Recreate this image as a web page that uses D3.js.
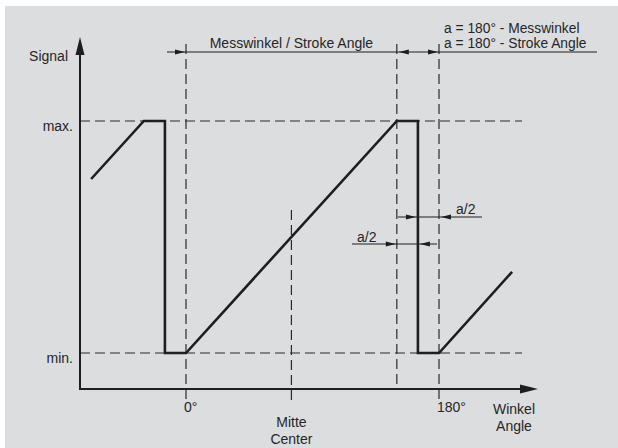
<!DOCTYPE html>
<html><head><meta charset="utf-8">
<script src="https://cdn.jsdelivr.net/npm/d3@7"></script>
<style>
html,body{margin:0;padding:0;background:#fff;}
svg{display:block;}
text{font-family:"Liberation Sans",Arial,sans-serif;font-size:14px;fill:#262626;}
</style></head>
<body>
<svg id="chart" width="618" height="448"></svg>
<script>
// ---- data ----
const signalAngle = [-67.5, -30, -15, -15, 0, 150, 165, 165, 180, 232];
const signalLevel = [0.75, 1, 1, 0, 0, 1, 1, 0, 0, 0.35];
const angleTicks = [0, 180];
const angleTickLabels = ["0°", "180°"];
const levelTicks = [0, 1];
const levelTickLabels = ["min.", "max."];
const strokeAngle = 150;
const centerAngle = 75;
const strokeLabel = "Messwinkel / Stroke Angle";
const gapLabels = ["a = 180° - Messwinkel", "a = 180° - Stroke Angle"];
const halfGapLabel = "a/2";
const centerLabels = ["Mitte", "Center"];
const xTitle = ["Winkel", "Angle"];
const yTitle = "Signal";

// ---- layout ----
const svg = d3.select("#chart");
svg.append("rect").attr("x",5).attr("y",6).attr("width",613).attr("height",442).attr("fill","#dcdddf");

const x = d3.scaleLinear().domain([0,180]).range([186,439]);
const y = d3.scaleLinear().domain([0,1]).range([353,121]);
const x0 = 80, yBase = 389, xEnd = 538, yTop = 37;
const ink = "#1e1e1e";

// dashed reference lines
const dash = "10,5";
const g = svg.append("g").attr("stroke", "#2a2a2a").attr("stroke-width",1.2).attr("stroke-dasharray",dash).attr("fill","none");
levelTicks.forEach(v => g.append("line").attr("x1",x0).attr("x2",522).attr("y1",y(v)).attr("y2",y(v)));
g.append("line").attr("x1",x(0)).attr("x2",x(0)).attr("y1",44).attr("y2",399);
g.append("line").attr("x1",x(strokeAngle)).attr("x2",x(strokeAngle)).attr("y1",44).attr("y2",yBase);
g.append("line").attr("x1",x(180)).attr("x2",x(180)).attr("y1",44).attr("y2",399);
g.append("line").attr("x1",x(centerAngle)).attr("x2",x(centerAngle)).attr("y1",210).attr("y2",401);

// axes
svg.append("line").attr("x1",x0).attr("x2",xEnd-12).attr("y1",yBase).attr("y2",yBase).attr("stroke",ink).attr("stroke-width",2);
svg.append("line").attr("x1",x0).attr("x2",x0).attr("y1",yBase+1).attr("y2",yTop+12).attr("stroke",ink).attr("stroke-width",2);
svg.append("path").attr("d",`M${xEnd},${yBase} L${xEnd-18},${yBase-4.5} L${xEnd-18},${yBase+4.5} Z`).attr("fill",ink);
svg.append("path").attr("d",`M${x0},${yTop} L${x0-4.5},${yTop+18} L${x0+4.5},${yTop+18} Z`).attr("fill",ink);

// signal line
const line = d3.line().x((d,i)=>x(signalAngle[i])).y((d,i)=>y(signalLevel[i]));
svg.append("path").attr("d", line(signalAngle)).attr("fill","none").attr("stroke",ink).attr("stroke-width",2.6).attr("stroke-linejoin","miter");

// dimension helpers
function arrow(tipX, yy, dir){ // dir: +1 pointing right, -1 pointing left
  const L = 10, w = 2.5;
  svg.append("path").attr("d",`M${tipX},${yy} L${tipX-dir*L},${yy-w} L${tipX-dir*L},${yy+w} Z`).attr("fill",ink);
}
function hline(x1,x2,yy){
  svg.append("line").attr("x1",x1).attr("x2",x2).attr("y1",yy).attr("y2",yy).attr("stroke",ink).attr("stroke-width",1.2);
}
// top dimension
const yDim = 52;
hline(x(0)-19, 597, yDim);
arrow(x(0)-1, yDim, 1);
arrow(x(strokeAngle)+2, yDim, -1);
arrow(x(180)-1, yDim, 1);
svg.append("text").attr("x",(x(0)+x(strokeAngle))/2).attr("y",48).attr("text-anchor","middle").text(strokeLabel);
svg.append("text").attr("x",x(180)+5).attr("y",32.5).style("font-size","13.8px").text(gapLabels[0]);
svg.append("text").attr("x",x(180)+5).attr("y",48).style("font-size","13.8px").text(gapLabels[1]);

// half-gap dimensions
const xDrop = x(signalAngle[6]);
hline(x(strokeAngle)+1, 482, 217);
arrow(xDrop-2, 217, 1);
arrow(x(180)+2, 217, -1);
svg.append("text").attr("x",456).attr("y",214).text(halfGapLabel);
hline(352, x(180)-2, 244);
arrow(x(strokeAngle)-1, 244, 1);
arrow(xDrop+2, 244, -1);
svg.append("text").attr("x",357).attr("y",242).text(halfGapLabel);

// tick labels
angleTicks.forEach((a,i)=> svg.append("text").attr("x",x(a)-2).attr("y",412).text(angleTickLabels[i]));
levelTicks.forEach((v,i)=> svg.append("text").attr("x",73).attr("y",y(v)+10).attr("text-anchor","end").text(levelTickLabels[i]));
centerLabels.forEach((t,i)=> svg.append("text").attr("x",x(centerAngle)).attr("y",427+i*17).attr("text-anchor","middle").text(t));
xTitle.forEach((t,i)=> svg.append("text").attr("x",514).attr("y",414+i*17).attr("text-anchor","middle").text(t));
svg.append("text").attr("x",68).attr("y",61).attr("text-anchor","end").text(yTitle);
</script>
</body></html>
